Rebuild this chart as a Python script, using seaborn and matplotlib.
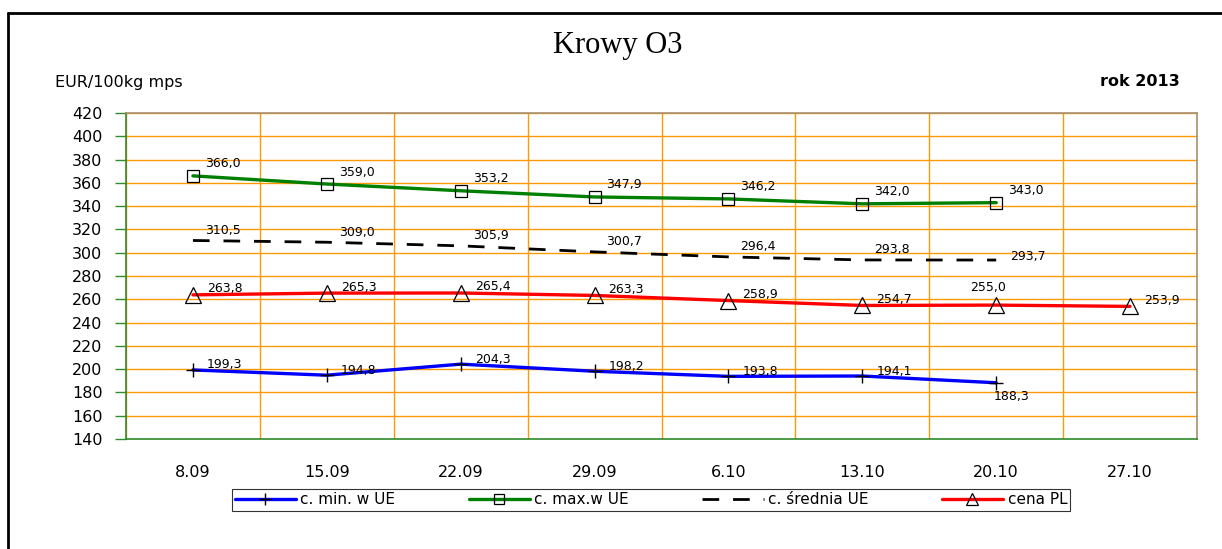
import numpy as np
import pandas as pd
import matplotlib
matplotlib.use("Agg")
import matplotlib.pyplot as plt
from matplotlib.lines import Line2D
import seaborn as sns

# dates (weekly notations)
weeks = ["8.09", "15.09", "22.09", "29.09", "6.10", "13.10", "20.10", "27.10"]

c_min = [199.3, 194.8, 204.3, 198.2, 193.8, 194.1, 188.3]
c_max = [366.0, 359.0, 353.2, 347.9, 346.2, 342.0, 343.0]
c_sred = [310.5, 309.0, 305.9, 300.7, 296.4, 293.8, 293.7]
cena_pl = [263.8, 265.3, 265.4, 263.3, 258.9, 254.7, 255.0, 253.9]

yticks = list(range(140, 421, 20))


def main():
    sns.set_style("white")
    plt.rcParams["font.family"] = ["DejaVu Sans"]
    plt.rcParams["text.color"] = "black"
    plt.rcParams["xtick.labelcolor"] = "black"
    plt.rcParams["ytick.labelcolor"] = "black"

    fig = plt.figure(figsize=(12.22, 5.49), dpi=100)
    ax = fig.add_axes([126 / 1222, 1 - 439 / 549, (1197 - 126) / 1222, (439 - 113) / 549])

    series = [
        ("c. min. w UE", c_min, dict(color="#0000FF", marker="+", ms=10, mec="black", mew=1.0)),
        ("c. max.w UE", c_max, dict(color="#008000", marker="s", ms=8.5, mfc="none", mec="black", mew=0.9)),
        ("c. średnia UE", c_sred, dict(color="black", dashes=(6, 5), lw=2.0)),
        ("cena PL", cena_pl, dict(color="#FF0000", marker="^", ms=11, mfc="none", mec="black", mew=0.9)),
    ]

    # label offsets in pixels (dx, dy, ha)
    offsets = {
        "c. min. w UE": (14, 5, "left"),
        "c. max.w UE": (12, 12, "left"),
        "c. średnia UE": (12, 10, "left"),
        "cena PL": (14, 6, "left"),
    }
    special = {
        ("c. min. w UE", 6): (15, -14, "center"),
        ("cena PL", 6): (-8, 18, "center"),
        ("c. średnia UE", 6): (14, 4, "left"),
    }

    for name, vals, style in series:
        df = pd.DataFrame({"x": np.arange(len(vals)), "y": vals})
        kw = dict(lw=2.4)
        kw.update(style)
        sns.lineplot(data=df, x="x", y="y", ax=ax, label=name, sort=False, **kw)
        for i, v in enumerate(vals):
            dx, dy, ha = special.get((name, i), offsets[name])
            ax.annotate(f"{v:.1f}".replace(".", ","), (i, v), xytext=(dx * 0.72, dy * 0.72),
                        textcoords="offset points", ha=ha, va="center", fontsize=9,
                        color="black")

    ax.set_xlim(-0.5, len(weeks) - 0.5)
    ax.set_ylim(140, 420)
    ax.set_xticks(np.arange(len(weeks)), weeks)
    ax.set_xticks(np.arange(len(weeks) + 1) - 0.5, minor=True)
    ax.set_yticks(yticks)
    ax.set_xlabel("")
    ax.set_ylabel("")

    ax.grid(True, axis="y", which="major", color="#FF9900", lw=1)
    ax.grid(True, axis="x", which="minor", color="#FF9900", lw=1)
    ax.grid(False, axis="x", which="major")
    ax.set_axisbelow(True)

    ax.tick_params(axis="x", which="major", length=0, pad=19, labelsize=11.5)
    ax.tick_params(axis="x", which="minor", length=5, color="#2E8B2E", width=1, direction="out")
    ax.tick_params(axis="y", which="major", length=8, color="#2E8B2E", width=1, direction="out",
                   pad=9, labelsize=11.5)
    ax.tick_params(axis="both", bottom=True, left=True)

    for s in ["left", "bottom"]:
        ax.spines[s].set_color("#2E8B2E")
        ax.spines[s].set_linewidth(1.2)
    for s in ["top", "right"]:
        ax.spines[s].set_color("#A89070")
        ax.spines[s].set_linewidth(1.2)

    # legend
    handles, labels = ax.get_legend_handles_labels()
    ax.legend_.remove()
    leg = fig.legend(handles, labels, loc="center", bbox_to_anchor=(651 / 1222, 1 - 500 / 549),
                     ncol=4, frameon=True, fancybox=False, edgecolor="black", fontsize=11,
                     handlelength=4.0, columnspacing=4.8, handletextpad=0.3, markerscale=0.8,
                     borderpad=0.2, borderaxespad=0)
    leg.get_frame().set_linewidth(0.8)

    # texts
    fig.text(618 / 1222, 1 - 46 / 549, "Krowy O3", ha="center", va="center",
             fontsize=22, family="Liberation Serif", color="black")
    fig.text(55 / 1222, 1 - 82 / 549, "EUR/100kg mps", ha="left", va="center", fontsize=11.5)
    fig.text(1180 / 1222, 1 - 82 / 549, "rok 2013", ha="right", va="center", fontsize=11.5,
             fontweight="bold")

    # outer frame (left and top edges)
    fig.add_artist(Line2D([8 / 1222, 8 / 1222], [0, 1 - 13 / 549], color="black", lw=2,
                          transform=fig.transFigure))
    fig.add_artist(Line2D([8 / 1222, 1], [1 - 13 / 549, 1 - 13 / 549], color="black", lw=2,
                          transform=fig.transFigure))

    fig.savefig("out.png", dpi=100)
    plt.close(fig)


if __name__ == "__main__":
    main()
